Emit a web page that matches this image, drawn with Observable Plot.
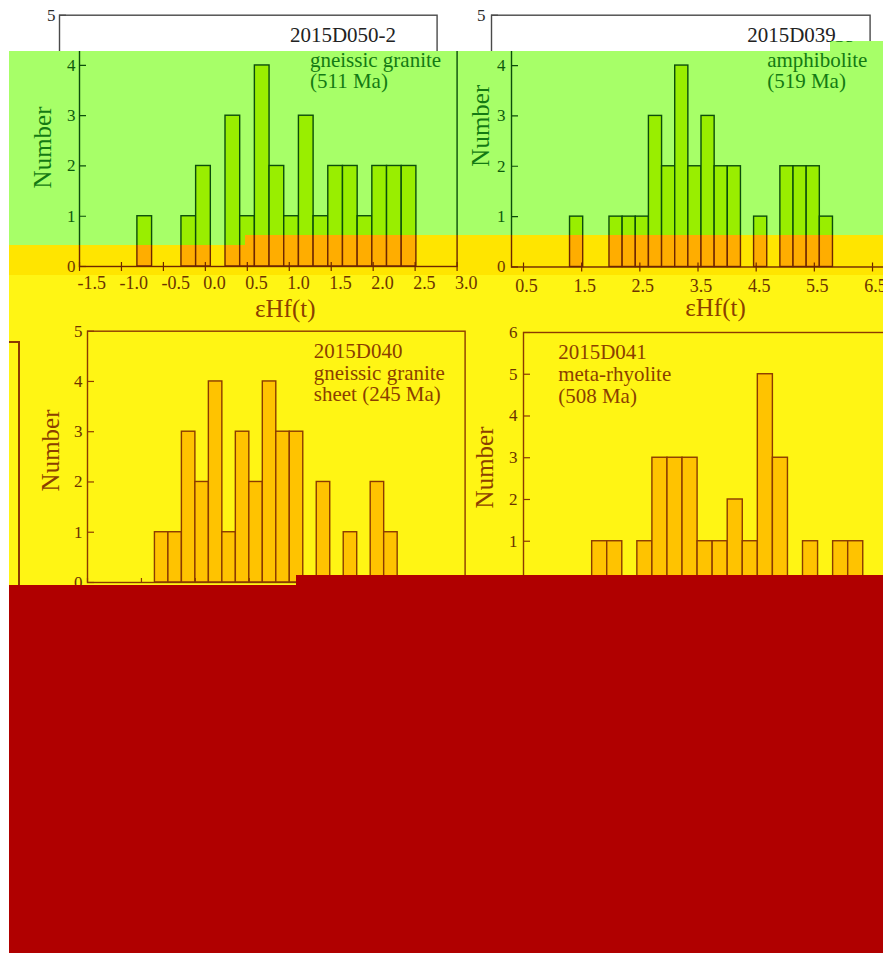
<!DOCTYPE html>
<html><head><meta charset="utf-8">
<script src="https://cdn.jsdelivr.net/npm/d3@7"></script>
<script src="https://cdn.jsdelivr.net/npm/@observablehq/plot@0.6"></script>
<style>
html,body{margin:0;padding:0;background:#fff;overflow:hidden;width:883px;height:953px;}
#stage{position:relative;width:883px;height:953px;overflow:hidden;background:#fff;}
.layer{position:absolute;left:0;top:0;width:883px;height:953px;overflow:hidden;}
.layer svg{position:absolute;}
</style></head><body><div id="stage"></div>
<script>
// ---------- data ----------
// 2015D050-2 gneissic granite (511 Ma)
const tlBinStart = [-0.81, -0.285, -0.11, 0.24, 0.415, 0.59, 0.765, 0.94, 1.115, 1.29, 1.465, 1.64, 1.815, 1.99, 2.165, 2.34];
const tlCount    = [1, 1, 2, 3, 1, 4, 2, 1, 3, 1, 2, 2, 1, 2, 2, 2];
const tlBinWidth = 0.175;
const tlXTicks = [-1.5, -1.0, -0.5, 0.0, 0.5, 1.0, 1.5, 2.0, 2.5, 3.0];
const tlLines = ["2015D050-2", "gneissic granite", "(511 Ma)"];

// 2015D039 amphibolite (519 Ma)
const trBinStart = [1.30, 1.978, 2.204, 2.43, 2.656, 2.882, 3.108, 3.334, 3.56, 3.786, 4.012, 4.464, 4.916, 5.142, 5.368, 5.594];
const trCount    = [1, 1, 1, 1, 3, 2, 4, 2, 3, 2, 2, 1, 2, 2, 2, 1];
const trBinWidth = 0.226;
const trXTicks = [0.5, 1.5, 2.5, 3.5, 4.5, 5.5, 6.5];
const trLines = ["2015D039", "amphibolite", "(519 Ma)"];

// 2015D040 gneissic granite sheet (245 Ma)
const blBinStart = [-0.75, -0.5, -0.25, 0, 0.25, 0.5, 0.75, 1.0, 1.25, 1.5, 1.75, 2.25, 2.75, 3.25, 3.5];
const blCount    = [1, 1, 3, 2, 4, 1, 3, 2, 4, 3, 3, 2, 1, 2, 1];
const blBinWidth = 0.25;
const blXTicks = [-2, -1, 0, 1, 2, 3, 4, 5];
const blLines = ["2015D040", "gneissic granite", "sheet (245 Ma)"];

// 2015D041 meta-rhyolite (508 Ma)
const brBinStart = [2.0, 2.25, 2.75, 3.0, 3.25, 3.5, 3.75, 4.0, 4.25, 4.5, 4.75, 5.0, 5.5, 6.0, 6.25];
const brCount    = [1, 1, 1, 3, 3, 3, 1, 1, 2, 1, 5, 3, 1, 1, 1];
const brBinWidth = 0.25;
const brXTicks = [1, 2, 3, 4, 5, 6, 7];
const brLines = ["2015D041", "meta-rhyolite", "(508 Ma)"];

const yTicks5 = [0, 1, 2, 3, 4, 5];
const yTicks6 = [0, 1, 2, 3, 4, 5, 6];
const yLabel = "Number";
const xLabel = "εHf(t)";

// ---------- layout ----------
const TL = {starts: tlBinStart, counts: tlCount, binW: tlBinWidth, xTicks: tlXTicks, yTicks: yTicks5, lines: tlLines,
  left: 58.7, right: 436.3, top: 14.7, bottom: 266, xDomain: [-1.5, 3.0], yDomain: [0, 5],
  xAnchor: "start", xDx: -2, xPad: 10, xFont: 18, yPad: 4, tdx: 230.5, tdy: 12, tdy2: 37, lh: 1.0,
  ndx: -37, ndy: 6.6, ldx: 17, ldy: 43, cross: true};
const TR = {starts: trBinStart, counts: trCount, binW: trBinWidth, xTicks: trXTicks, yTicks: yTicks5, lines: trLines,
  left: 490.7, right: 869.3, top: 14.7, bottom: 266.5, xDomain: [0.2937, 6.802], yDomain: [0, 5],
  xAnchor: "middle", xDx: 3, xPad: 12, xFont: 18, yPad: 6, tdx: 255.7, tdy: 11.5, tdy2: 37, lh: 1.0,
  ndx: -31, ndy: -15.4, ldx: 14.7, ldy: 41, cross: true};
const BL = {starts: blBinStart, counts: blCount, binW: blBinWidth, xTicks: blXTicks, yTicks: yTicks5, lines: blLines,
  left: 86.7, right: 464.3, top: 330.7, bottom: 582, xDomain: [-2, 5], yDomain: [0, 5],
  xAnchor: "middle", xDx: 0, xPad: 10, xFont: 18, yPad: 5, tdx: 226.3, tdy: 11.4, tdy2: null, lh: 1.03,
  ndx: -36.7, ndy: -6.4, ldx: 0, ldy: 43, cross: false};
const BR = {starts: brBinStart, counts: brCount, binW: brBinWidth, xTicks: brXTicks, yTicks: yTicks6, lines: brLines,
  left: 523.3, right: 900.4, top: 332, bottom: 582.5, xDomain: [0.86, 7.12], yDomain: [0, 6],
  xAnchor: "middle", xDx: 0, xPad: 10, xFont: 18, yPad: 6, tdx: 34.7, tdy: 11.1, tdy2: null, lh: 1.05,
  ndx: -38.3, ndy: 9.7, ldx: 0, ldy: 43, cross: false};

const THEMES = {
  white:  {bg: "#ffffff", bar: "#ffffff", line: "#4a4a4a", text: "#222222", tick: "#2a2a2a"},
  green:  {bg: "#a7ff68", bar: "#99ee00", line: "#0b4d0b", text: "#137a13", tick: "#0d5a0d"},
  dyellow:{bg: "#ffe500", bar: "#ffad00", line: "#6e2600", text: "#6e3a00", tick: "#6e3a00"},
  yellow: {bg: "#fff514", bar: "#ffc300", line: "#8b3a00", text: "#8b3f00", tick: "#6b3300"},
};

const FONT = "'Liberation Serif', 'Times New Roman', serif";

function makePanel(s, t, shift) {
  const mL = 80, mR = 20, mB = 80;
  const w = s.right - s.left;
  const width = mL + w + mR;
  const height = s.bottom + mB;
  const bars = s.starts.map((x0, i) => ({x1: x0, x2: x0 + s.binW, n: s.counts[i]}));
  const textMarks = s.tdy2 == null
    ? [Plot.text([s.lines.join("\n")], {frameAnchor: "top-left", textAnchor: "start", lineAnchor: "top", dx: s.tdx, dy: s.tdy,
        fontSize: 21, lineHeight: s.lh, fill: t.text})]
    : [Plot.text([s.lines[0]], {frameAnchor: "top-left", textAnchor: "start", lineAnchor: "top", dx: s.tdx, dy: s.tdy,
        fontSize: 21, fill: t.text}),
       Plot.text([s.lines.slice(1).join("\n")], {frameAnchor: "top-left", textAnchor: "start", lineAnchor: "top", dx: s.tdx, dy: s.tdy2,
        fontSize: 21, lineHeight: s.lh, fill: t.text})];
  const marks = [
    Plot.rectY(bars, {x1: "x1", x2: "x2", y1: 0, y2: "n", fill: t.bar, stroke: t.line, strokeWidth: 1.4}),
    Plot.frame({stroke: t.line, strokeWidth: 1.4}),
    Plot.axisY({anchor: "left", ticks: s.yTicks, tickSize: -7, fill: "none", stroke: t.line, strokeWidth: 1.2, label: null}),
    Plot.axisY({anchor: "left", ticks: s.yTicks, tickSize: 0, tickPadding: s.yPad, fontSize: 17, fill: t.tick, stroke: "none", label: null, tickFormat: d => String(d)}),
    Plot.axisX({anchor: "bottom", ticks: s.xTicks, tickSize: -4, fill: "none", stroke: t.line, strokeWidth: 1.2, label: null}),
    Plot.axisX({anchor: "bottom", ticks: s.xTicks, tickSize: 0, tickPadding: s.xPad, fontSize: s.xFont, fill: t.tick, stroke: "none",
      textAnchor: s.xAnchor, dx: s.xDx, label: null, tickFormat: d => d.toFixed(1)}),
    ...textMarks,
    Plot.text([yLabel], {frameAnchor: "left", textAnchor: "middle", lineAnchor: "middle", rotate: -90, dx: s.ndx, dy: s.ndy, fontSize: 25, fill: t.text}),
    Plot.text([xLabel], {frameAnchor: "bottom", textAnchor: "middle", lineAnchor: "middle", dx: s.ldx, dy: s.ldy, fontSize: 25, fill: t.text})
  ];
  if (s.cross) marks.splice(5, 0, Plot.axisX({anchor: "bottom", ticks: s.xTicks, tickSize: 5, fill: "none", stroke: t.line, strokeWidth: 1.2, label: null}));
  const svg = Plot.plot({
    width, height, marginLeft: mL, marginRight: mR, marginTop: s.top, marginBottom: mB,
    style: {background: "transparent", fontFamily: FONT, color: t.text, overflow: "visible"},
    x: {domain: s.xDomain, label: null, axis: null},
    y: {domain: s.yDomain, label: null, axis: null},
    marks
  });
  svg.style.left = (s.left + shift - mL) + "px";
  svg.style.top = "0px";
  return svg;
}

const stage = document.getElementById("stage");
function layer(bg, clip) {
  const d = document.createElement("div");
  d.className = "layer";
  if (bg) d.style.background = bg;
  if (clip) d.style.clipPath = clip;
  stage.appendChild(d);
  return d;
}
const SHIFT = 20.3;

// white base: original top panels
const base = layer(null, null);
base.appendChild(makePanel(TL, THEMES.white, 0));
base.appendChild(makePanel(TR, THEMES.white, 0));

// green band
const g = layer(THEMES.green.bg, "polygon(9px 51px, 830px 51px, 830px 41px, 883px 41px, 883px 235px, 245px 235px, 245px 245px, 9px 245px)");
g.appendChild(makePanel(TL, THEMES.green, SHIFT));
g.appendChild(makePanel(TR, THEMES.green, SHIFT));

// dark yellow band
const dy = layer(THEMES.dyellow.bg, "polygon(9px 245px, 245px 245px, 245px 235px, 883px 235px, 883px 275px, 9px 275px)");
dy.appendChild(makePanel(TL, THEMES.dyellow, SHIFT));
dy.appendChild(makePanel(TR, THEMES.dyellow, SHIFT));

// light yellow band
const ly = layer(THEMES.yellow.bg, "polygon(9px 275px, 883px 275px, 883px 590px, 9px 590px)");
ly.appendChild(makePanel(TL, THEMES.yellow, SHIFT));
ly.appendChild(makePanel(TR, THEMES.yellow, SHIFT));
ly.appendChild(makePanel(BL, THEMES.yellow, 0));
ly.appendChild(makePanel(BR, THEMES.yellow, 0));
const edge = document.createElement("div");
edge.style.cssText = "position:absolute;left:8px;top:341px;width:10px;height:260px;border-top:2px solid #8b3a00;border-right:2px solid #8b3a00;";
ly.appendChild(edge);

// dark red block
layer("#b00000", "polygon(9px 585px, 296px 585px, 296px 575px, 883px 575px, 883px 953px, 9px 953px)");
</script>
</body></html>
